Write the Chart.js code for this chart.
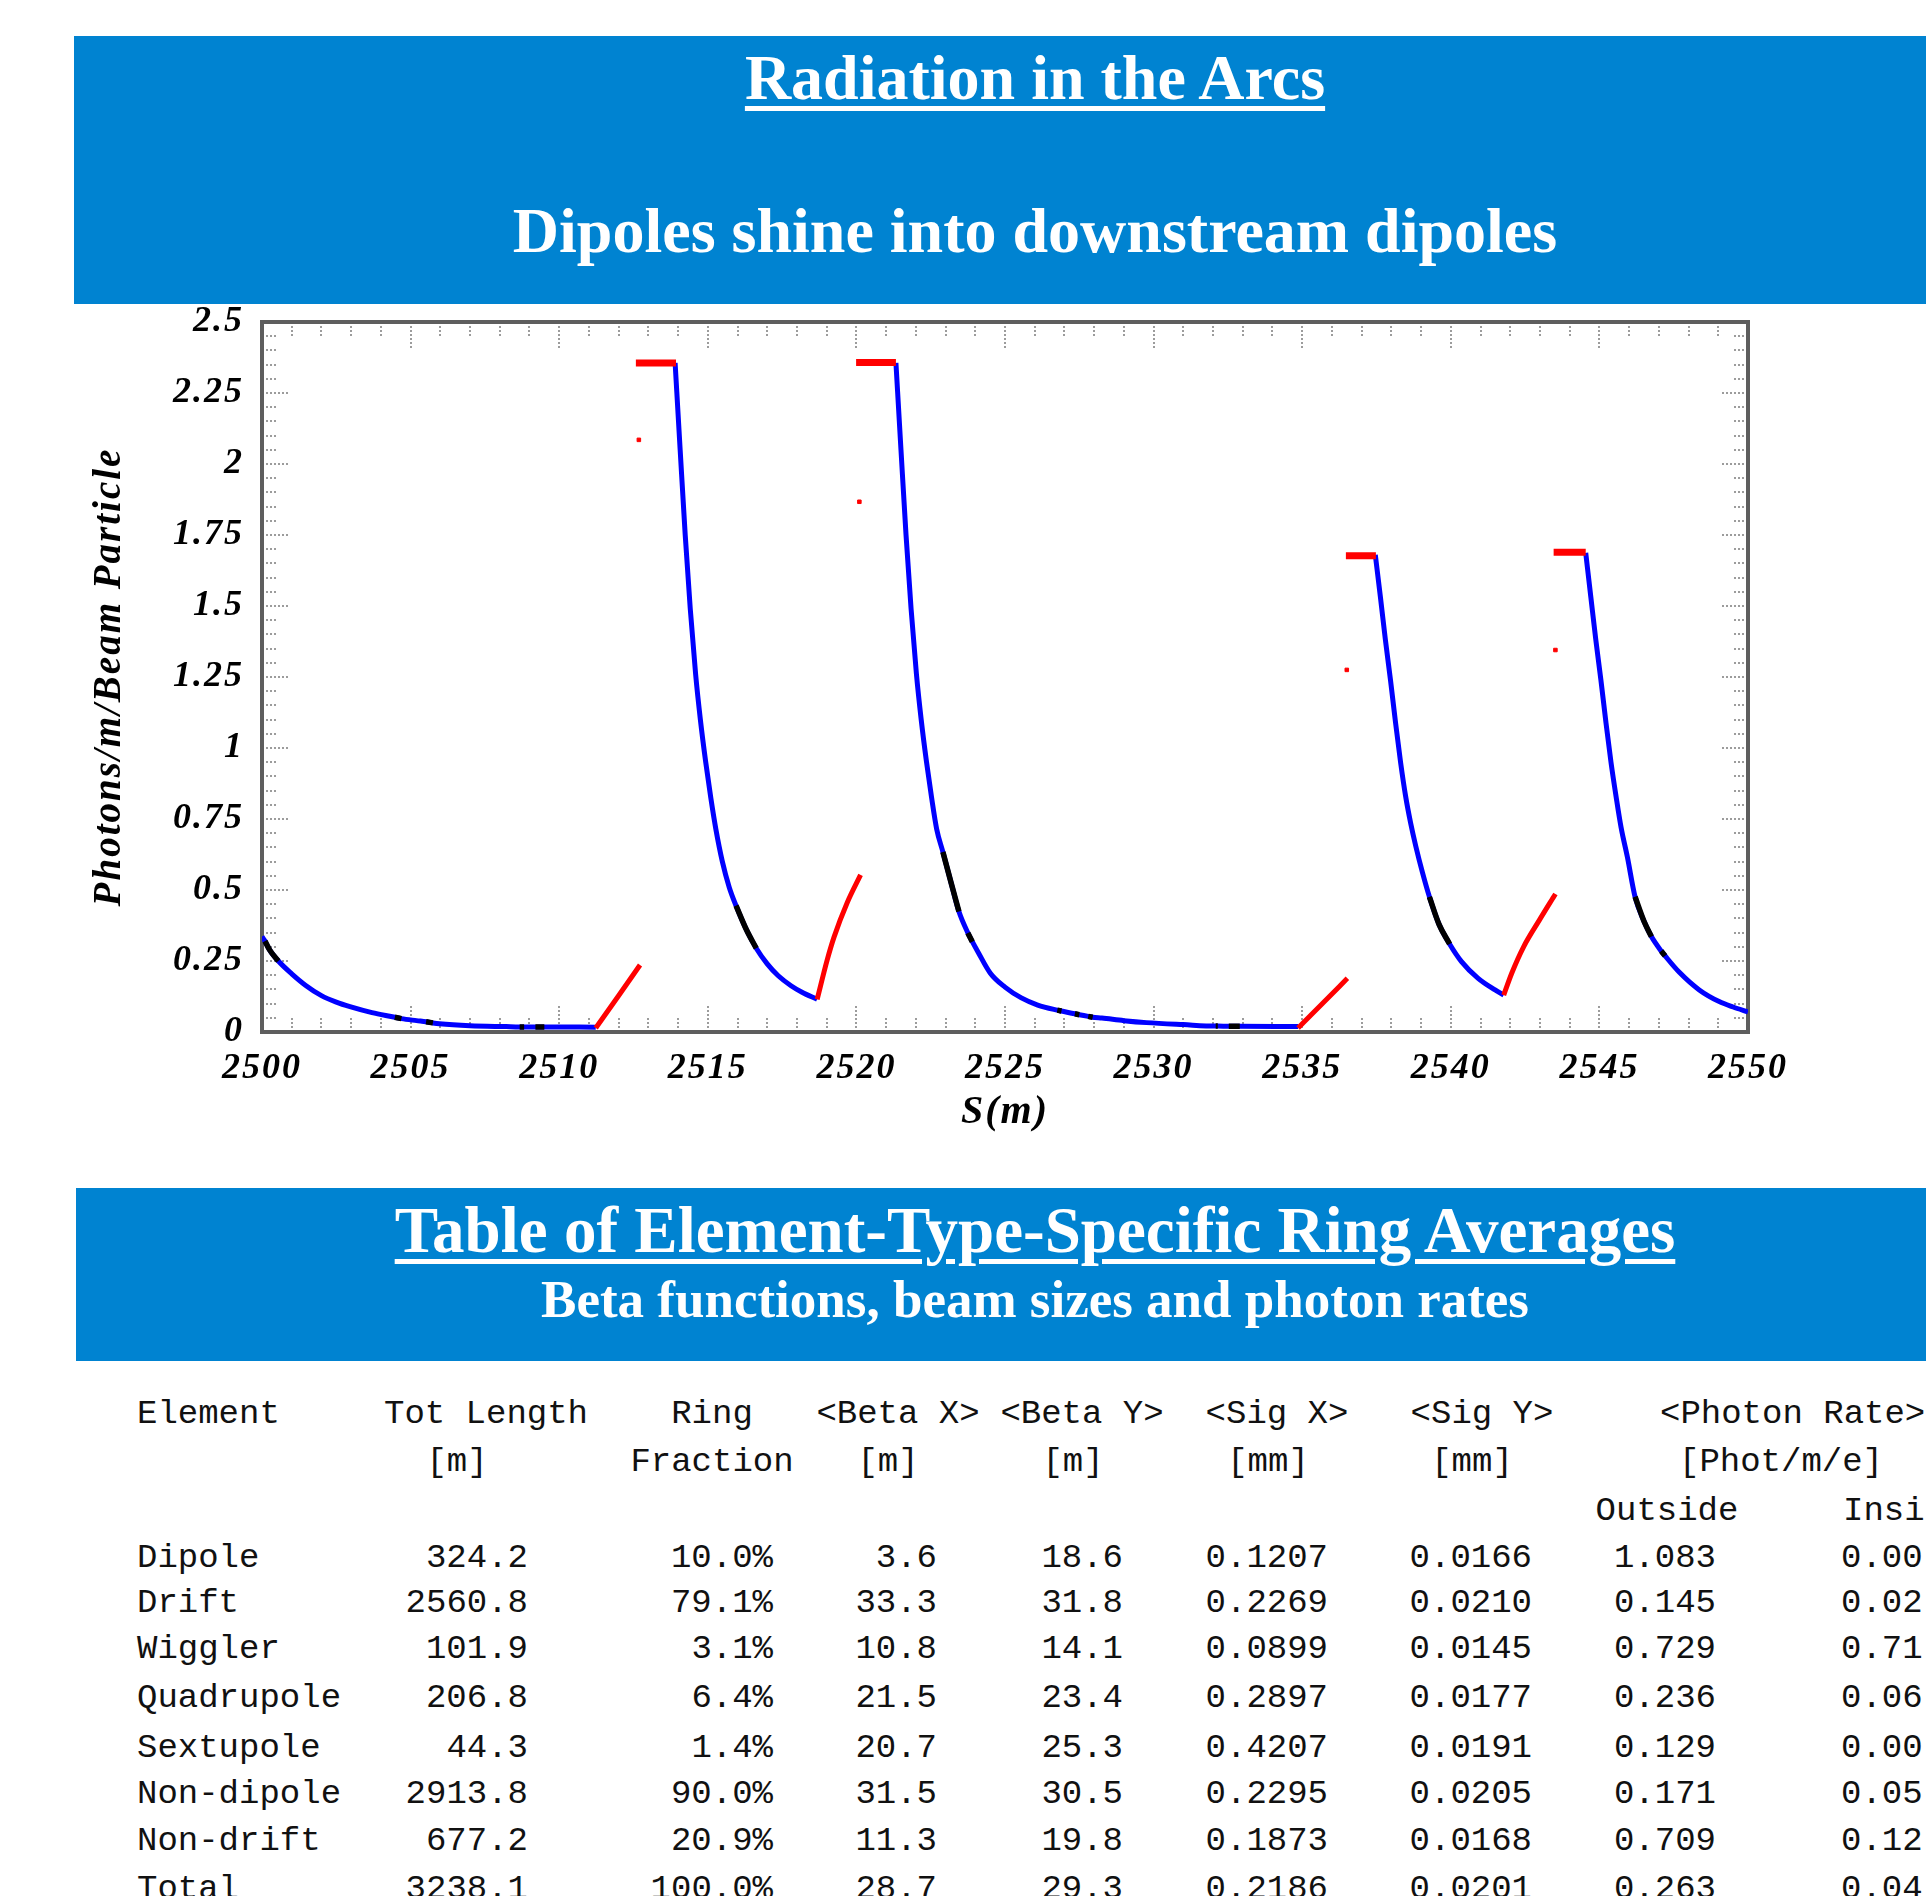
<!DOCTYPE html>
<html>
<head>
<meta charset="utf-8">
<script src="https://cdn.jsdelivr.net/npm/chart.js@4.4.1/dist/chart.umd.min.js"></script>
<style>
  html, body { margin: 0; padding: 0; background: #fff; }
  body { width: 1926px; height: 1896px; position: relative; overflow: hidden; font-family: "Liberation Serif", "Times New Roman", serif; }
  .band { position: absolute; background: #0083d1; }
  .head { position: absolute; text-align: center; color: #fff; font-weight: bold; line-height: 1; white-space: nowrap; }
  .head u { text-decoration-thickness: 5px; text-underline-offset: 7px; }
  #chartBox { position: absolute; left: 0; top: 282px; width: 1926px; height: 883px; }
  .cell { position: absolute; font-family: "Liberation Mono", monospace; font-size: 34px; line-height: 34px; white-space: pre; color: #111; }
</style>
</head>
<body>
<div class="band" style="left:74px;top:36px;width:1922px;height:268px"></div>
<div class="head" style="left:74px;width:1922px;top:46px;font-size:64px"><u>Radiation in the Arcs</u></div>
<div class="head" style="left:74px;width:1922px;top:199px;font-size:64px">Dipoles shine into downstream dipoles</div>

<div id="chartBox"><canvas id="arcChart" width="1926" height="883"></canvas></div>

<div class="band" style="left:76px;top:1188px;width:1918px;height:173px"></div>
<div class="head" style="left:76px;width:1918px;top:1198px;font-size:65px"><u>Table of Element-Type-Specific Ring Averages</u></div>
<div class="head" style="left:76px;width:1918px;top:1273px;font-size:53px">Beta functions, beam sizes and photon rates</div>

<div id="table"></div>

<script>
// photon rate along S; null breaks a segment
// blue: drift sections
const driftS = [
  2500.0, 2500.1, 2500.25, 2500.55, 2501.0, 2501.46, 2502.0, 2502.5, 2502.96, 2503.7, 2504.47, 2504.69, 2505.2, 2505.52, 2505.75, 2505.97, 2507.0, 2508.22, 2508.67, 2508.82, 2509.2, 2509.5, 2511.23, null,
  2513.90, 2514.07, 2514.24, 2514.41, 2514.59, 2514.75, 2514.93, 2515.10, 2515.27, 2515.49, 2515.72, 2515.95, 2516.3, 2516.63, 2517.0, 2517.37, 2517.8, 2518.17, 2518.68, null,
  2521.33, 2521.50, 2521.67, 2521.84, 2522.02, 2522.18, 2522.36, 2522.53, 2522.70, 2522.91, 2523.2, 2523.45, 2523.75, 2523.9, 2524.1, 2524.5, 2525.0, 2525.55, 2526.1, 2526.76, 2526.9, 2527.35, 2527.5, 2527.8, 2527.95, 2528.26, 2529.0, 2529.76, 2531.0, 2532.09, 2532.16, 2532.53, 2532.9, 2534.86, null,
  2537.46, 2537.63, 2537.80, 2537.97, 2538.14, 2538.31, 2538.48, 2538.65, 2538.82, 2539.05, 2539.28, 2539.6, 2539.96, 2540.36, 2540.92, 2541.49, 2541.78, null,
  2544.54, 2544.71, 2544.88, 2545.05, 2545.22, 2545.39, 2545.56, 2545.73, 2545.94, 2546.2, 2546.5, 2546.75, 2547.08, 2547.21, 2547.69, 2548.36, 2549.03, 2549.5, 2550.0
];
const driftRate = [
  0.336, 0.32, 0.29, 0.25, 0.205, 0.165, 0.128, 0.105, 0.089, 0.068, 0.052, 0.047, 0.040, 0.036, 0.032, 0.029, 0.022, 0.019, 0.018, 0.018, 0.018, 0.018, 0.017, null,
  2.356, 2.05, 1.75, 1.49, 1.26, 1.10, 0.95, 0.825, 0.715, 0.60, 0.51, 0.445, 0.36, 0.295, 0.24, 0.198, 0.163, 0.14, 0.115, null,
  2.356, 2.05, 1.75, 1.49, 1.26, 1.10, 0.95, 0.825, 0.715, 0.634, 0.52, 0.424, 0.349, 0.318, 0.28, 0.208, 0.158, 0.12, 0.095, 0.077, 0.074, 0.064, 0.061, 0.055, 0.052, 0.049, 0.040, 0.033, 0.026, 0.021, 0.021, 0.020, 0.020, 0.019, null,
  1.68, 1.533, 1.38, 1.24, 1.09, 0.95, 0.83, 0.735, 0.655, 0.56, 0.476, 0.38, 0.31, 0.248, 0.189, 0.148, 0.13, null,
  1.687, 1.533, 1.38, 1.24, 1.09, 0.95, 0.83, 0.72, 0.617, 0.476, 0.39, 0.336, 0.285, 0.268, 0.21, 0.148, 0.107, 0.088, 0.071
];
// black: quadrupole / sextupole sections
const quadS = [
  2500.1, 2500.25, 2500.55, null, 2504.47, 2504.69, null, 2505.52, 2505.75, null, 2508.67, 2508.82, null, 2509.2, 2509.5, null,
  2515.95, 2516.3, 2516.63, null,
  2522.91, 2523.2, 2523.45, null, 2523.75, 2523.9, null, 2526.76, 2526.9, null, 2527.35, 2527.5, null, 2527.8, 2527.95, null, 2532.09, 2532.16, null, 2532.53, 2532.9, null,
  2539.28, 2539.6, 2539.96, null,
  2546.2, 2546.5, 2546.75, null, 2547.08, 2547.21
];
const quadRate = [
  0.32, 0.29, 0.25, null, 0.052, 0.047, null, 0.036, 0.032, null, 0.018, 0.018, null, 0.018, 0.018, null,
  0.445, 0.36, 0.295, null,
  0.634, 0.52, 0.424, null, 0.349, 0.318, null, 0.077, 0.074, null, 0.064, 0.061, null, 0.055, 0.052, null, 0.021, 0.021, null, 0.020, 0.020, null,
  0.476, 0.38, 0.31, null,
  0.476, 0.39, 0.336, null, 0.285, 0.268
];
// red: dipoles
const dipoleS = [
  2511.23, 2511.98, 2512.72, null,
  2518.68, 2519.02, 2519.25, 2519.69, 2520.14, null,
  2534.86, 2535.69, 2536.52, null,
  2541.78, 2542.05, 2542.45, 2542.98, 2543.52
];
const dipoleRate = [
  0.014, 0.125, 0.236, null,
  0.115, 0.255, 0.335, 0.455, 0.553, null,
  0.014, 0.101, 0.189, null,
  0.13, 0.207, 0.30, 0.394, 0.486
];
const dipoleTopS = [2512.58, 2513.93, null, 2519.99, 2521.33, null, 2536.47, 2537.48, null, 2543.46, 2544.54];
const dipoleTopRate = [2.356, 2.356, null, 2.357, 2.357, null, 1.677, 1.677, null, 1.689, 1.689];
const strayS = [2512.68, 2520.1, 2536.5, 2543.52];
const strayRate = [2.085, 1.867, 1.275, 1.345];

const xTickLabels = ['2500', '2505', '2510', '2515', '2520', '2525', '2530', '2535', '2540', '2545', '2550'];
const yTickLabels = ['0', '0.25', '0.5', '0.75', '1', '1.25', '1.5', '1.75', '2', '2.25', '2.5'];

// table of ring averages
const rowNames = ['Dipole', 'Drift', 'Wiggler', 'Quadrupole', 'Sextupole', 'Non-dipole', 'Non-drift', 'Total'];
const totLength = ['324.2', '2560.8', '101.9', '206.8', '44.3', '2913.8', '677.2', '3238.1'];
const ringFraction = ['10.0%', '79.1%', '3.1%', '6.4%', '1.4%', '90.0%', '20.9%', '100.0%'];
const betaX = ['3.6', '33.3', '10.8', '21.5', '20.7', '31.5', '11.3', '28.7'];
const betaY = ['18.6', '31.8', '14.1', '23.4', '25.3', '30.5', '19.8', '29.3'];
const sigX = ['0.1207', '0.2269', '0.0899', '0.2897', '0.4207', '0.2295', '0.1873', '0.2186'];
const sigY = ['0.0166', '0.0210', '0.0145', '0.0177', '0.0191', '0.0205', '0.0168', '0.0201'];
const rateOutside = ['1.083', '0.145', '0.729', '0.236', '0.129', '0.171', '0.709', '0.263'];
const rateInside = ['0.00', '0.02', '0.71', '0.06', '0.00', '0.05', '0.12', '0.04'];

function toPoints(sArr, rArr) {
  return sArr.map((s, i) => ({ x: s, y: rArr[i] }));
}

const isMajorY = v => Math.abs(v / 0.25 - Math.round(v / 0.25)) < 1e-6;

// inward ticks on all four sides plus the frame
const tickMarks = {
  id: 'tickMarks',
  beforeDraw(chart) {
    chart.ctx.letterSpacing = '2px';
  },
  beforeDatasetsDraw(chart) {
    const { ctx, chartArea: a, scales: { x, y } } = chart;
    ctx.save();
    ctx.strokeStyle = '#9c9c9c';
    ctx.lineWidth = 2;
    ctx.setLineDash([2, 2]);
    ctx.beginPath();
    x.ticks.forEach(t => {
      const px = Math.round(x.getPixelForValue(t.value));
      const len = Math.round(t.value) % 5 === 0 ? 27 : 14;
      ctx.moveTo(px, a.bottom); ctx.lineTo(px, a.bottom - len);
      ctx.moveTo(px, a.top); ctx.lineTo(px, a.top + len);
    });
    y.ticks.forEach(t => {
      const py = Math.round(y.getPixelForValue(t.value));
      const len = isMajorY(t.value) ? 28 : 14;
      ctx.moveTo(a.left, py); ctx.lineTo(a.left + len, py);
      ctx.moveTo(a.right, py); ctx.lineTo(a.right - len, py);
    });
    ctx.stroke();
    ctx.setLineDash([]);
    ctx.strokeStyle = '#5e5e5e';
    ctx.lineWidth = 4;
    ctx.strokeRect(a.left, a.top, a.right - a.left, a.bottom - a.top);
    ctx.restore();
  }
};

const tickFont = { family: 'Liberation Serif', size: 36, style: 'italic', weight: 'bold' };
const titleFont = { family: 'Liberation Serif', size: 40, style: 'italic', weight: 'bold' };

new Chart(document.getElementById('arcChart'), {
  type: 'scatter',
  data: {
    datasets: [
      { label: 'Dipole', data: toPoints(dipoleTopS, dipoleTopRate), showLine: true, borderColor: '#ff0000', borderWidth: 7, pointRadius: 0 },
      { label: 'Dipole', data: toPoints(strayS, strayRate), showLine: false, backgroundColor: '#ff0000', borderColor: '#ff0000', pointStyle: 'rect', pointRadius: 2.5 },
      { label: 'Dipole', data: toPoints(dipoleS, dipoleRate), showLine: true, borderColor: '#ff0000', borderWidth: 5, pointRadius: 0, cubicInterpolationMode: 'monotone' },
      { label: 'Quad/Sext', data: toPoints(quadS, quadRate), showLine: true, borderColor: '#000000', borderWidth: 5.5, pointRadius: 0, cubicInterpolationMode: 'monotone' },
      { label: 'Drift', data: toPoints(driftS, driftRate), showLine: true, borderColor: '#0000ff', borderWidth: 5, pointRadius: 0, cubicInterpolationMode: 'monotone' }
    ]
  },
  options: {
    responsive: false,
    animation: false,
    devicePixelRatio: 1,
    layout: { padding: { left: 0, top: 40, right: 178, bottom: 0 } },
    plugins: { legend: { display: false }, tooltip: { enabled: false } },
    scales: {
      x: {
        type: 'linear', min: 2500, max: 2550,
        grid: { display: false }, border: { display: false },
        ticks: {
          stepSize: 1, autoSkip: false, maxRotation: 0, padding: 7, color: '#000', font: tickFont,
          callback: v => (Math.round(v) % 5 === 0 ? xTickLabels[Math.round((v - 2500) / 5)] : '')
        },
        title: { display: true, text: 'S(m)', color: '#000', font: titleFont, padding: { top: 0, bottom: 28 } },
        afterFit: scale => { scale.height = 133; }
      },
      y: {
        type: 'linear', min: 0, max: 2.5,
        grid: { display: false }, border: { display: false },
        ticks: {
          stepSize: 0.05, autoSkip: false, padding: 10, color: '#000', font: tickFont,
          callback: v => (isMajorY(v) ? yTickLabels[Math.round(v / 0.25)] : '')
        },
        title: { display: true, text: 'Photons/m/Beam Particle', color: '#000', font: { ...titleFont, size: 39 }, padding: { top: 87, bottom: 0 } },
        afterFit: scale => { scale.width = 262; }
      }
    }
  },
  plugins: [tickMarks]
});

// table layout
const table = document.getElementById('table');
function addCell(text, x, baseline, align) {
  const d = document.createElement('div');
  d.className = 'cell';
  d.textContent = text;
  d.style.left = x + 'px';
  d.style.top = (baseline - 26) + 'px';
  if (align === 'right') d.style.transform = 'translateX(-100%)';
  if (align === 'center') d.style.transform = 'translateX(-50%)';
  table.appendChild(d);
}
const headers = [
  ['Element', 137, 1423, 'left'], ['Tot Length', 486, 1423, 'center'], ['Ring', 712, 1423, 'center'],
  ['<Beta X>', 898, 1423, 'center'], ['<Beta Y>', 1082, 1423, 'center'], ['<Sig X>', 1277, 1423, 'center'],
  ['<Sig Y>', 1482, 1423, 'center'], ['<Photon Rate>', 1660, 1423, 'left'],
  ['[m]', 457, 1471, 'center'], ['Fraction', 712, 1471, 'center'], ['[m]', 888, 1471, 'center'],
  ['[m]', 1073, 1471, 'center'], ['[mm]', 1268, 1471, 'center'], ['[mm]', 1472, 1471, 'center'],
  ['[Phot/m/e]', 1781, 1471, 'center'],
  ['Outside', 1667, 1520, 'center'], ['Inside', 1843, 1520, 'left']
];
headers.forEach(h => addCell(h[0], h[1], h[2], h[3]));
const rowBaselines = [1567, 1612, 1658, 1707, 1757, 1803, 1850, 1898];
const columns = [
  [rowNames, 137, 'left'], [totLength, 528, 'right'], [ringFraction, 773, 'right'],
  [betaX, 937, 'right'], [betaY, 1123, 'right'], [sigX, 1328, 'right'],
  [sigY, 1532, 'right'], [rateOutside, 1716, 'right'], [rateInside, 1841, 'left']
];
columns.forEach(([vals, x, align]) => {
  vals.forEach((v, i) => addCell(v, x, rowBaselines[i], align));
});
</script>
</body>
</html>
